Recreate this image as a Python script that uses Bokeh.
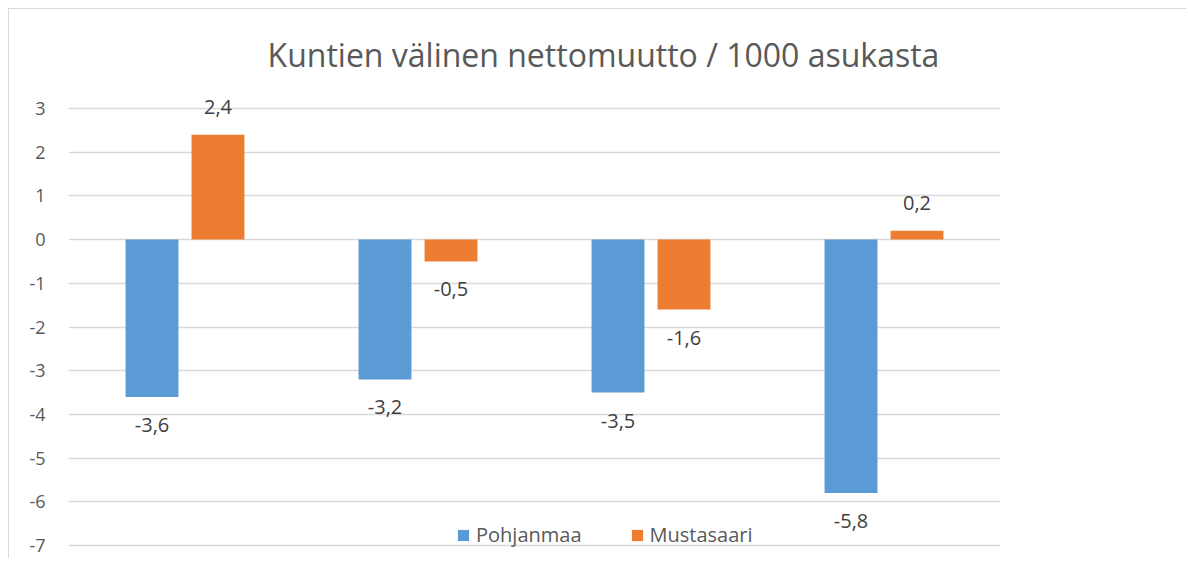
from bokeh.plotting import figure
from bokeh.models import (ColumnDataSource, FactorRange, Range1d, FixedTicker, Legend,
                          LegendItem, LabelSet, Label)
from bokeh.core.properties import value
from bokeh.transform import dodge
from bokeh.embed import file_html
from bokeh.resources import INLINE

title = "Kuntien välinen nettomuutto / 1000 asukasta"
categories = ["1", "2", "3", "4"]
series_names = ["Pohjanmaa", "Mustasaari"]
pohjanmaa = [-3.6, -3.2, -3.5, -5.8]
mustasaari = [2.4, -0.5, -1.6, 0.2]
y_ticks = [-7, -6, -5, -4, -3, -2, -1, 0, 1, 2, 3]

BLUE = "#5B9BD5"
ORANGE = "#ED7D31"
GRID = "#d9d9d9"
TXT = "#595959"
FONT = "Open Sans"

p = figure(width=1178, height=550, output_backend="svg", toolbar_location=None,
           x_range=FactorRange(*categories), y_range=Range1d(-7.32, 5.265),
           min_border_left=59, min_border_right=187, min_border_top=0,
           min_border_bottom=0)
p.styles = {"margin-left": "8px", "margin-top": "8px",
            "border-top": "1px solid #d9d9d9", "border-left": "1px solid #d9d9d9"}
p.outline_line_color = None
p.background_fill_color = "white"
p.border_fill_color = "white"

src = ColumnDataSource(dict(cat=categories, a=pohjanmaa, b=mustasaari,
                            la=[f"{v:.1f}".replace(".", ",") for v in pohjanmaa],
                            lb=[f"{v:.1f}".replace(".", ",") for v in mustasaari]))

off = 0.1416
bw = 0.227
ra = p.vbar(x=dodge("cat", -off, range=p.x_range), top="a", bottom=0, width=bw,
            source=src, fill_color=BLUE, line_color=None)
rb = p.vbar(x=dodge("cat", off, range=p.x_range), top="b", bottom=0, width=bw,
            source=src, fill_color=ORANGE, line_color=None)

# data labels
for key, lab, sign in (("a", "la", -off), ("b", "lb", off)):
    vals = src.data[key]
    s = ColumnDataSource(dict(cat=categories, v=vals, t=src.data[lab],
                              yo=[28 if v >= 0 else -28 for v in vals]))
    ls = LabelSet(x=dodge("cat", sign, range=p.x_range), y="v", text="t", y_offset="yo",
                  source=s, text_align="center", text_baseline="middle",
                  text_font=value(FONT), text_font_size=value("20px"),
                  text_color="#404040")
    p.add_layout(ls)

# axes
p.xaxis.visible = False
p.yaxis.ticker = FixedTicker(ticks=y_ticks)
p.yaxis.major_label_overrides = {t: str(t) for t in y_ticks}
p.yaxis.axis_line_color = None
p.yaxis.major_tick_line_color = None
p.yaxis.minor_tick_line_color = None
p.yaxis.major_tick_out = 0
p.yaxis.major_label_standoff = 23
p.yaxis.major_label_text_font = FONT
p.yaxis.major_label_text_font_size = "18px"
p.yaxis.major_label_text_color = TXT

p.xgrid.visible = False
p.ygrid.grid_line_color = GRID
p.ygrid.grid_line_width = 1.5

# title
p.add_layout(Label(x=2.296, y=4.24, text=title, text_align="center",
                   text_baseline="middle", text_font=FONT, text_font_size="32px",
                   text_color=TXT))

legend = Legend(items=[LegendItem(label=series_names[0], renderers=[ra]),
                       LegendItem(label=series_names[1], renderers=[rb])],
                orientation="horizontal", location=(388, 11),
                glyph_width=14, glyph_height=14, label_standoff=6, spacing=48,
                padding=0, margin=0, border_line_alpha=0, background_fill_alpha=0,
                label_text_font=FONT, label_text_font_size="20px", label_text_color=TXT)
p.add_layout(legend, "center")

open("out.html", "w").write(file_html(p, INLINE))
